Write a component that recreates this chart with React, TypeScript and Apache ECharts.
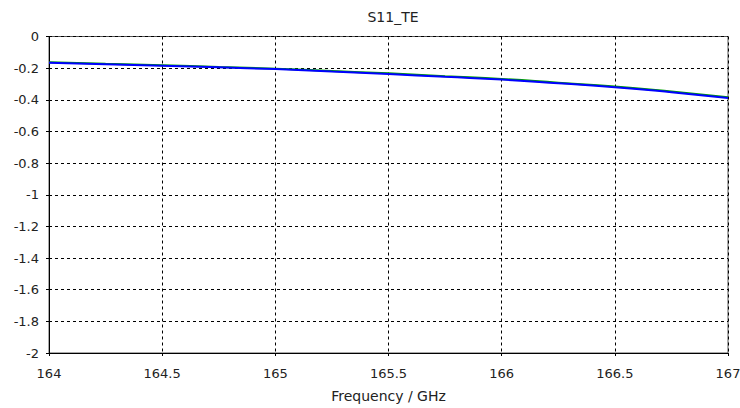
import React, { useEffect, useRef } from "react";
import * as echarts from "echarts";

const freqGHz = [164, 164.25, 164.5, 164.75, 165, 165.25, 165.5, 165.75, 166, 166.25, 166.5, 166.75, 167];
const s11Blue = [-0.166, -0.175, -0.185, -0.195, -0.206, -0.221, -0.237, -0.255, -0.272, -0.295, -0.320, -0.352, -0.388];
const s11Green = [-0.162, -0.172, -0.181, -0.192, -0.203, -0.218, -0.233, -0.251, -0.268, -0.292, -0.316, -0.348, -0.384];
const titleText = "S11_TE";
const xAxisName = "Frequency / GHz";

const FONT = "'DejaVu Sans', Tahoma, sans-serif";

export default function App() {
  const ref = useRef<HTMLDivElement>(null);
  useEffect(() => {
    if (!ref.current) return;
    const chart = echarts.init(ref.current, undefined, { renderer: "svg" });
    chart.setOption({
      animation: false,
      backgroundColor: "#ffffff",
      title: {
        text: titleText,
        left: 388,
        textAlign: "center",
        top: 5,
        textStyle: { fontFamily: FONT, fontSize: 14, fontWeight: "normal", color: "#222" },
      },
      grid: {
        left: 49,
        right: 12,
        top: 36.5,
        bottom: 55,
        show: true,
        borderColor: "#555",
        borderWidth: 1,
        backgroundColor: "transparent",
        outerBoundsMode: "none",
        containLabel: false,
      },
      xAxis: {
        type: "value",
        min: 164,
        max: 167,
        interval: 0.5,
        name: xAxisName,
        nameLocation: "middle",
        nameGap: 36,
        nameTextStyle: { fontFamily: FONT, fontSize: 14, color: "#222" },
        axisLine: { show: true, onZero: false, lineStyle: { color: "#000", width: 1 } },
        axisTick: { show: true, length: 3, lineStyle: { color: "#000" } },
        axisLabel: { fontFamily: FONT, fontSize: 13, color: "#222", margin: 14 },
        splitLine: { show: true, lineStyle: { color: "#000", type: [3, 3], width: 1 } },
      },
      yAxis: {
        type: "value",
        min: -2,
        max: 0,
        interval: 0.2,
        axisLine: { show: true, onZero: false, lineStyle: { color: "#000", width: 1 } },
        axisTick: { show: true, length: 3, lineStyle: { color: "#000" } },
        axisLabel: { fontFamily: FONT, fontSize: 13, color: "#222", margin: 10 },
        splitLine: { show: true, lineStyle: { color: "#000", type: [3, 3], width: 1 } },
      },
      series: [
        {
          type: "line",
          data: freqGHz.map((f, i) => [f, s11Green[i]]),
          smooth: true,
          showSymbol: false,
          lineStyle: { color: "#00a000", width: 2 },
          z: 2,
        },
        {
          type: "line",
          data: freqGHz.map((f, i) => [f, s11Blue[i]]),
          smooth: true,
          showSymbol: false,
          lineStyle: { color: "#0000ff", width: 2 },
          z: 3,
        },
      ],
    });
    return () => chart.dispose();
  }, []);
  return (
    <div
      ref={ref}
      style={{ position: "fixed", left: 0, top: 0, width: 740, height: 408, background: "#fff" }}
    />
  );
}
